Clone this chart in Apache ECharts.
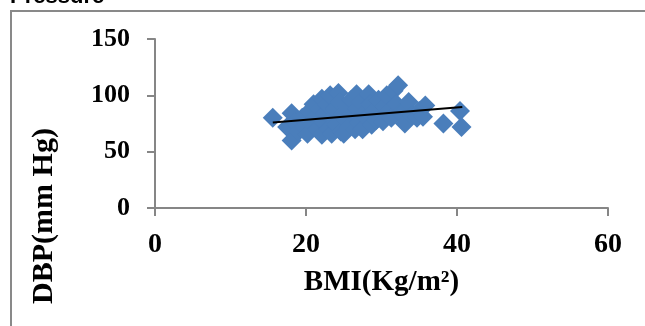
<!DOCTYPE html>
<html>
<head>
<meta charset="utf-8">
<script src="https://cdn.jsdelivr.net/npm/echarts@6/dist/echarts.min.js"></script>
<style>
  html, body { margin: 0; padding: 0; background: #fff; }
  #chart { width: 645px; height: 326px; }
</style>
</head>
<body>
<div id="chart"></div>
<script>
// BMI vs DBP
const bmi = [15.6, 17.5, 18.1, 18.1, 18.5, 19.0, 19.5, 19.8, 20.2, 20.5, 20.8, 21.0, 21.2, 21.5, 21.8,
  22.1, 22.1, 22.4, 22.6, 22.8, 23.0, 23.2, 23.4, 23.5, 23.8, 24.0, 24.3, 24.4, 24.6, 24.9,
  25.0, 25.2, 25.5, 25.7, 26.0, 26.2, 26.5, 26.7, 26.8, 27.0, 27.2, 27.5, 27.7, 28.0, 28.3,
  28.5, 28.7, 29.0, 29.3, 29.6, 30.0, 30.2, 30.5, 30.7, 31.0, 31.3, 31.6, 32.0, 32.2, 32.5,
  33.1, 33.3, 33.6, 34.0, 34.7, 35.0, 35.5, 35.8, 38.2, 40.4, 40.6];
const dbp = [80, 72, 84, 60, 76, 68, 80, 72, 66, 86, 74, 92, 80, 70, 88,
  65, 97, 76, 84, 92, 70, 100, 66, 80, 88, 74, 102, 94, 68, 84,
  66, 78, 90, 72, 96, 82, 70, 101, 88, 76, 94, 70, 84, 80, 101,
  92, 74, 86, 78, 96, 82, 77, 90, 100, 86, 80, 104, 92, 109, 84,
  75, 88, 94, 82, 80, 86, 81, 91, 75, 86, 72];
// linear trend line ends
const trendX = [15.6, 40.7];
const trendY = [75.8, 89.6];

const xTicks = { min: 0, max: 60, interval: 20 };
const yTicks = { min: 0, max: 150, interval: 50 };

const chart = echarts.init(document.getElementById('chart'));

const axisGray = '#868686';
const serif = '"Liberation Serif", "Times New Roman", serif';

chart.setOption({
  animation: false,
  grid: { left: 155, right: 37, top: 39, bottom: 118, outerBoundsMode: 'none' },
  xAxis: {
    type: 'value',
    min: xTicks.min, max: xTicks.max, interval: xTicks.interval,
    splitLine: { show: false },
    axisLine: { show: true, lineStyle: { color: axisGray, width: 2 } },
    axisTick: { show: true, inside: false, length: 8, lineStyle: { color: axisGray, width: 2 } },
    axisLabel: { margin: 23, color: '#000', fontFamily: serif, fontWeight: 'bold', fontSize: 28 },
    name: 'BMI(Kg/m²)',
    nameLocation: 'middle',
    nameGap: 60,
    nameTextStyle: { color: '#000', fontFamily: serif, fontWeight: 'bold', fontSize: 29 }
  },
  yAxis: {
    type: 'value',
    min: yTicks.min, max: yTicks.max, interval: yTicks.interval,
    splitLine: { show: false },
    axisLine: { show: true, lineStyle: { color: axisGray, width: 2 } },
    axisTick: { show: true, inside: false, length: 8, lineStyle: { color: axisGray, width: 2 } },
    axisLabel: { margin: 25, color: '#000', fontFamily: serif, fontWeight: 'bold', fontSize: 26 }
  },
  graphic: [
    {
      type: 'rect',
      shape: { x: 11, y: 11, width: 700, height: 400 },
      style: { fill: 'none', stroke: '#898989', lineWidth: 2 },
      silent: true
    },
    {
      type: 'text',
      x: 10, y: 8,
      style: {
        text: 'Pressure', fill: '#000',
        font: 'bold 22px "Liberation Sans", Arial, sans-serif',
        textAlign: 'left', textVerticalAlign: 'bottom'
      }
    },
    {
      type: 'text',
      x: 44, y: 216,
      rotation: Math.PI / 2,
      style: {
        text: 'DBP(mm Hg)', fill: '#000',
        font: 'bold 30px ' + serif,
        textAlign: 'center', textVerticalAlign: 'middle'
      }
    }
  ],
  series: [
    {
      type: 'scatter',
      symbol: 'diamond',
      symbolSize: 20,
      itemStyle: { color: '#4a7ebb', opacity: 1 },
      data: bmi.map((x, i) => [x, dbp[i]]),
      z: 2
    },
    {
      type: 'line',
      data: trendX.map((x, i) => [x, trendY[i]]),
      symbol: 'none',
      lineStyle: { color: '#000', width: 2 },
      z: 3
    }
  ]
});
</script>
</body>
</html>
